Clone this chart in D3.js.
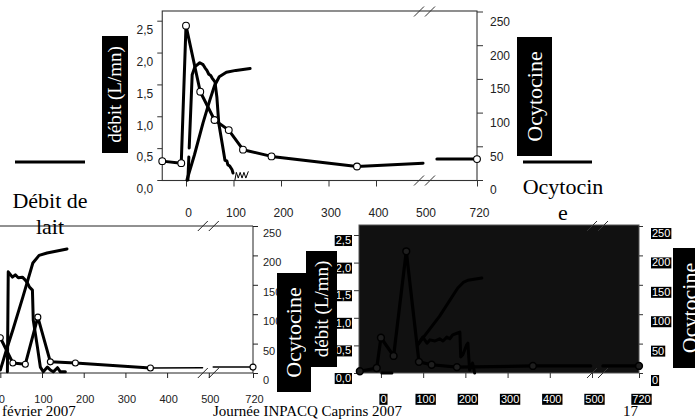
<!DOCTYPE html>
<html><head><meta charset="utf-8">
<script src="https://cdn.jsdelivr.net/npm/d3@7"></script>
<style>html,body{margin:0;padding:0;background:#fff}svg{display:block}</style>
</head><body>
<svg id="c" width="695" height="420"></svg>
<script>
// ---------- data ----------
const timeTicks = [0, 100, 200, 300, 400, 500, 720];
const flowTicks = [0, 0.5, 1, 1.5, 2, 2.5];
const flowTickLabels = ["0,0", "0,5", "1,0", "1,5", "2,0", "2,5"];
const oxyTicks = [0, 50, 100, 150, 200, 250];

// Chart A (top): oxytocin samples (s=1 -> sampled point), cumulative volume, milk flow
const oxyA = [
  {t:-50,v:28,s:1},{t:-10,v:25,s:1},{t:0,v:229,s:1},{t:30,v:131,s:1},{t:60,v:89,s:1},
  {t:90,v:74,s:1},{t:120,v:45,s:1},{t:180,v:35,s:1},{t:360,v:20,s:1},{t:499,v:25},
  {t:520,v:null},{t:555,v:31},{t:720,v:31,s:1}
];
const volA = [
  {t:2,v:0},{t:18,v:0.4},{t:36,v:0.9},{t:50,v:1.25},{t:60,v:1.48},{t:70,v:1.62},
  {t:85,v:1.69},{t:105,v:1.72},{t:135,v:1.75}
];
const flowA = [
  {t:4,v:0},{t:13,v:1.65},{t:19,v:1.78},{t:29,v:1.84},{t:36,v:1.81},{t:40,v:1.76},
  {t:44,v:1.72},{t:48,v:1.66},{t:52,v:1.64},{t:55,v:1.60},{t:61,v:1.54},{t:65,v:1.30},
  {t:69,v:0.89},{t:76,v:0.58},{t:82,v:0.31},{t:86,v:0.30},{t:88,v:0.24},{t:92,v:0.22},
  {t:97,v:0.16},{t:99,v:0.11}
];
const scribbleA = [
  {t:103,v:0.0},{t:106,v:0.12},{t:110,v:0.03},{t:114,v:0.12},{t:118,v:0.03},
  {t:122,v:0.12},{t:126,v:0.03},{t:131,v:0.13}
];

// Chart B (bottom left)
const oxyB = [
  {t:0,v:60,s:1},{t:30,v:17,s:1},{t:60,v:15,s:1},{t:90,v:95,s:1},{t:120,v:19,s:1},
  {t:180,v:17,s:1},{t:360,v:8.5,s:1}
];
const oxyBTail = [
  {t:360,v:8.5},{t:485,v:9},{t:500,v:null},{t:522,v:10},{t:720,v:10,s:1}
];
const volB = [
  {t:0,v:0.05},{t:15,v:0.4},{t:30,v:0.73},{t:54,v:1.29},{t:66,v:1.58},{t:78,v:1.87},
  {t:93,v:2.0},{t:112,v:2.04},{t:160,v:2.11}
];
const flowB = [
  {t:17,v:0.02},{t:19,v:1.72},{t:29,v:1.63},{t:36,v:1.67},{t:43,v:1.62},{t:53,v:1.63},
  {t:60,v:1.58},{t:65,v:1.53},{t:70,v:1.46},{t:77,v:1.41},{t:79,v:0.90},{t:89,v:0.44},
  {t:96,v:0.10},{t:103,v:0.02},{t:113,v:0.10},{t:120,v:0.05},{t:127,v:0.02},
  {t:137,v:0.09},{t:144,v:0.02},{t:156,v:0.02}
];

// Chart C (bottom right, dark)
const oxyC = [
  {t:-50,v:3,s:1},{t:-10,v:8.5,s:1},{t:0,v:60,s:1},{t:30,v:29,s:1},{t:60,v:207,s:1},
  {t:90,v:19,s:1},{t:120,v:14,s:1},{t:180,v:10,s:1},{t:360,v:12,s:1},{t:497,v:12},
  {t:520,v:null},{t:551,v:12},{t:720,v:12,s:1}
];
const volC = [
  {t:87,v:0.51},{t:139,v:1.03},{t:182,v:1.54},{t:195,v:1.64},{t:206,v:1.68},{t:239,v:1.72}
];
const flowC = [
  {t:2,v:0},{t:26,v:0},{t:40,v:null},
  {t:87,v:0.51},{t:99,v:0.65},{t:109,v:0.54},{t:116,v:0.60},{t:128,v:0.58},{t:139,v:0.62},
  {t:147,v:0.58},{t:156,v:0.65},{t:163,v:0.62},{t:170,v:0.69},{t:180,v:0.72},{t:187,v:0.74},
  {t:189,v:0.29},{t:194,v:0.33},{t:203,v:0.51},{t:206,v:0.54},{t:210,v:0.05},{t:217,v:0.18},
  {t:222,v:0.0}
];

// ---------- drawing ----------
const SERIF = "'Liberation Serif','Times New Roman',serif";
const SANS = "'Liberation Sans',Arial,Helvetica,sans-serif";
const svg = d3.select("#c");

const lineGen = (x, y) => d3.line().defined(d => d.v != null).x(d => x(d.t)).y(d => y(d.v));

function drawLine(g, data, x, y, opts) {
  return g.append("path").datum(data)
    .attr("d", lineGen(x, y))
    .attr("fill", "none")
    .attr("stroke", opts.color || "#000")
    .attr("stroke-width", opts.w || 3)
    .attr("stroke-linejoin", "round")
    .attr("stroke-linecap", "round")
    .attr("stroke-dasharray", opts.dash || null);
}
function drawCircles(g, data, x, y, opts) {
  g.selectAll(null).data(data.filter(d => d.s)).enter().append("circle")
    .attr("cx", d => x(d.t)).attr("cy", d => y(d.v)).attr("r", opts.r || 3.3)
    .attr("fill", opts.fill || "#fff").attr("stroke", opts.stroke || "#000")
    .attr("stroke-width", opts.sw || 1.1);
}
function drawBreak(g, cx, cy, color) {
  [-5.5, 5.5].forEach(o => {
    g.append("line").attr("x1", cx + o - 5).attr("y1", cy + 5)
      .attr("x2", cx + o + 5).attr("y2", cy - 5)
      .attr("stroke", color).attr("stroke-width", 1);
  });
}
function styleAxis(g, color, size, textColor) {
  g.select(".domain").remove();
  g.attr("font-family", null).attr("font-size", null);
  g.selectAll(".tick line").attr("stroke", color).attr("stroke-width", 1);
  g.selectAll(".tick text").attr("fill", textColor || "#222")
    .style("font-family", SANS).style("font-size", size + "px");
}
function blackBoxes(g) {
  g.selectAll(".tick").each(function () {
    const tk = d3.select(this);
    const bb = tk.select("text").node().getBBox();
    tk.insert("rect", "text").attr("x", bb.x - 1).attr("y", bb.y + 1)
      .attr("width", bb.width + 2).attr("height", bb.height - 1).attr("fill", "#000");
  });
}
function labelBox(x, y, w, h, text, size, cx) {
  const g = svg.append("g");
  g.append("rect").attr("x", x).attr("y", y).attr("width", w).attr("height", h).attr("fill", "#000");
  const tx = cx != null ? cx : x + w / 2;
  g.append("text").attr("transform", `translate(${tx},${y + h / 2}) rotate(-90)`)
    .attr("text-anchor", "middle").attr("dy", "0.33em")
    .attr("fill", "#fff").style("font-family", SERIF).style("font-size", size + "px")
    .text(text);
}

// ===== Chart B (bottom left) =====
{
  const x = d3.scaleLinear().domain([-60, 500, 720]).range([-24.7, 208.8, 253]);
  const yL = d3.scaleLinear().domain([0, 2.5]).range([373, 226]);
  const yR = d3.scaleLinear().domain([0, 250]).range([373, 226]);
  const g = svg.append("g");
  g.append("line").attr("x1", 0).attr("x2", 253).attr("y1", 226).attr("y2", 226).attr("stroke", "#222");
  g.append("line").attr("x1", 0).attr("x2", 253).attr("y1", 373).attr("y2", 373).attr("stroke", "#222");
  g.append("line").attr("x1", 253).attr("x2", 253).attr("y1", 226).attr("y2", 373).attr("stroke", "#222");

  const ax = g.append("g").attr("transform", "translate(0,373)")
    .call(d3.axisBottom(x).tickValues(timeTicks).tickSize(5).tickFormat(d3.format("d")));
  styleAxis(ax, "#222", 11);
  ax.selectAll(".tick text").attr("y", 22).attr("dx", 1);
  const ar = g.append("g").attr("transform", "translate(253,0)")
    .call(d3.axisRight(yR).tickValues(oxyTicks).tickSize(5).tickPadding(5));
  styleAxis(ar, "#222", 11);
  ar.selectAll(".tick text").attr("y", 7);

  drawBreak(g, x(500) - 0.5, 226, "#222");
  drawBreak(g, x(500) - 0.5, 373, "#222");

  drawLine(g, volB, x, yL, {w: 3});
  drawLine(g, flowB, x, yL, {w: 3});
  drawLine(g, oxyBTail, x, yR, {w: 1.5});
  drawLine(g, oxyB, x, yR, {w: 3});
  drawCircles(g, oxyB.concat(oxyBTail), x, yR, {r: 3});
}

// ===== Chart C (bottom right, dark) =====
{
  const x = d3.scaleLinear().domain([-52, 500, 720]).range([359, 592, 639]);
  const yL = d3.scaleLinear().domain([0, 2.5]).range([373, 235]);
  const yR = d3.scaleLinear().domain([0, 250]).range([373, 226]);
  const g = svg.append("g");
  g.append("rect").attr("x", 359).attr("y", 225).attr("width", 280).attr("height", 148)
    .attr("fill", "#111").attr("stroke", "#555").attr("stroke-width", 1);

  const ax = g.append("g").attr("transform", "translate(0,373)")
    .call(d3.axisBottom(x).tickValues(timeTicks).tickSize(5).tickFormat(d3.format("d")));
  styleAxis(ax, "#333", 11, "#fff");
  ax.selectAll(".tick text").attr("y", 22).attr("dx", 2);
  blackBoxes(ax);

  const al = g.append("g").attr("transform", "translate(359,0)")
    .call(d3.axisLeft(yL).tickValues(flowTicks).tickSize(5).tickPadding(3)
      .tickFormat((d, i) => flowTickLabels[i]));
  styleAxis(al, "#333", 11, "#fff");
  al.selectAll(".tick text").attr("y", 5);
  blackBoxes(al);

  const ar = g.append("g").attr("transform", "translate(639,0)")
    .call(d3.axisRight(yR).tickValues(oxyTicks).tickSize(4).tickPadding(9));
  styleAxis(ar, "#333", 11, "#fff");
  ar.selectAll(".tick text").attr("y", 7);
  blackBoxes(ar);

  drawBreak(g, x(500) + 5.5, 226, "#333");
  drawBreak(g, x(500) + 5.5, 373, "#333");

  drawLine(g, volC, x, yL, {w: 3});
  drawLine(g, flowC, x, yL, {w: 3});
  drawLine(g, oxyC, x, yR, {w: 3.2});
  drawCircles(g, oxyC, x, yR, {r: 3.4, fill: "#1e1e1e", stroke: "#000", sw: 1.5});
}

// ===== Chart A (top) =====
{
  const x = d3.scaleLinear().domain([-50, 500, 720]).range([162.25, 423.5, 477]);
  const yL = d3.scaleLinear().domain([0, 2.5]).range([180, 20.7]);
  const yR = d3.scaleLinear().domain([0, 250]).range([180, 11.5]);
  const g = svg.append("g");
  g.append("rect").attr("x", 162.25).attr("y", 11).attr("width", 477 - 162.25).attr("height", 169.5)
    .attr("fill", "#fff").attr("stroke", "#333").attr("stroke-width", 1.1);

  const ax = g.append("g").attr("transform", "translate(0,180.5)")
    .call(d3.axisBottom(x).tickValues(timeTicks).tickSize(6).tickFormat(d3.format("d")));
  styleAxis(ax, "#333", 12);
  ax.selectAll(".tick text").attr("y", 28).attr("dx", 2);
  ax.selectAll(".tick").filter(d => d === 500).select("line").remove();

  const al = g.append("g").attr("transform", "translate(162.25,0)")
    .call(d3.axisLeft(yL).tickValues(flowTicks).tickSize(5).tickPadding(4)
      .tickFormat((d, i) => flowTickLabels[i]));
  styleAxis(al, "#333", 12);
  al.selectAll(".tick text").attr("y", 9);

  const ar = g.append("g").attr("transform", "translate(477,0)")
    .call(d3.axisRight(yR).tickValues(oxyTicks).tickSize(6).tickPadding(7));
  styleAxis(ar, "#333", 12);
  ar.selectAll(".tick text").attr("y", 10);

  drawBreak(g, x(500) + 1, 11.5, "#333");
  drawBreak(g, x(500) + 1, 180.5, "#333");

  drawLine(g, volA, x, yL, {w: 3});
  drawLine(g, flowA, x, yL, {w: 3, dash: "23,9,2000"});
  drawLine(g, scribbleA, x, yL, {w: 1});
  drawLine(g, oxyA, x, yR, {w: 3});
  drawCircles(g, oxyA, x, yR, {r: 3.4});
}

// ===== labels, legends, footer =====
labelBox(102, 36, 26, 117, "débit (L/mn)", 19);
labelBox(517, 37, 35, 119, "Ocytocine", 22);
labelBox(277, 273, 34, 119, "Ocytocine", 22);
labelBox(306, 251, 31, 116, "débit (L/mn)", 19);
labelBox(673, 248, 35, 120, "Ocytocine", 22, 690);

svg.append("line").attr("x1", 15).attr("x2", 85).attr("y1", 162).attr("y2", 162)
  .attr("stroke", "#000").attr("stroke-width", 3);
svg.append("line").attr("x1", 523).attr("x2", 592).attr("y1", 162).attr("y2", 162)
  .attr("stroke", "#000").attr("stroke-width", 3);

const legTxt = (x, y, s) => svg.append("text").attr("x", x).attr("y", y)
  .attr("text-anchor", "middle").style("font-family", SERIF).style("font-size", "22px")
  .attr("fill", "#000").text(s);
legTxt(50, 208, "Débit de");
legTxt(50, 234, "lait");
legTxt(563, 194, "Ocytocin");
legTxt(563, 220, "e");

const foot = (x, s) => svg.append("text").attr("x", x).attr("y", 416)
  .style("font-family", SERIF).style("font-size", "15px").attr("fill", "#000").text(s);
foot(2, "février 2007");
foot(213, "Journée INPACQ Caprins 2007");
foot(623, "17");
</script>
</body></html>
